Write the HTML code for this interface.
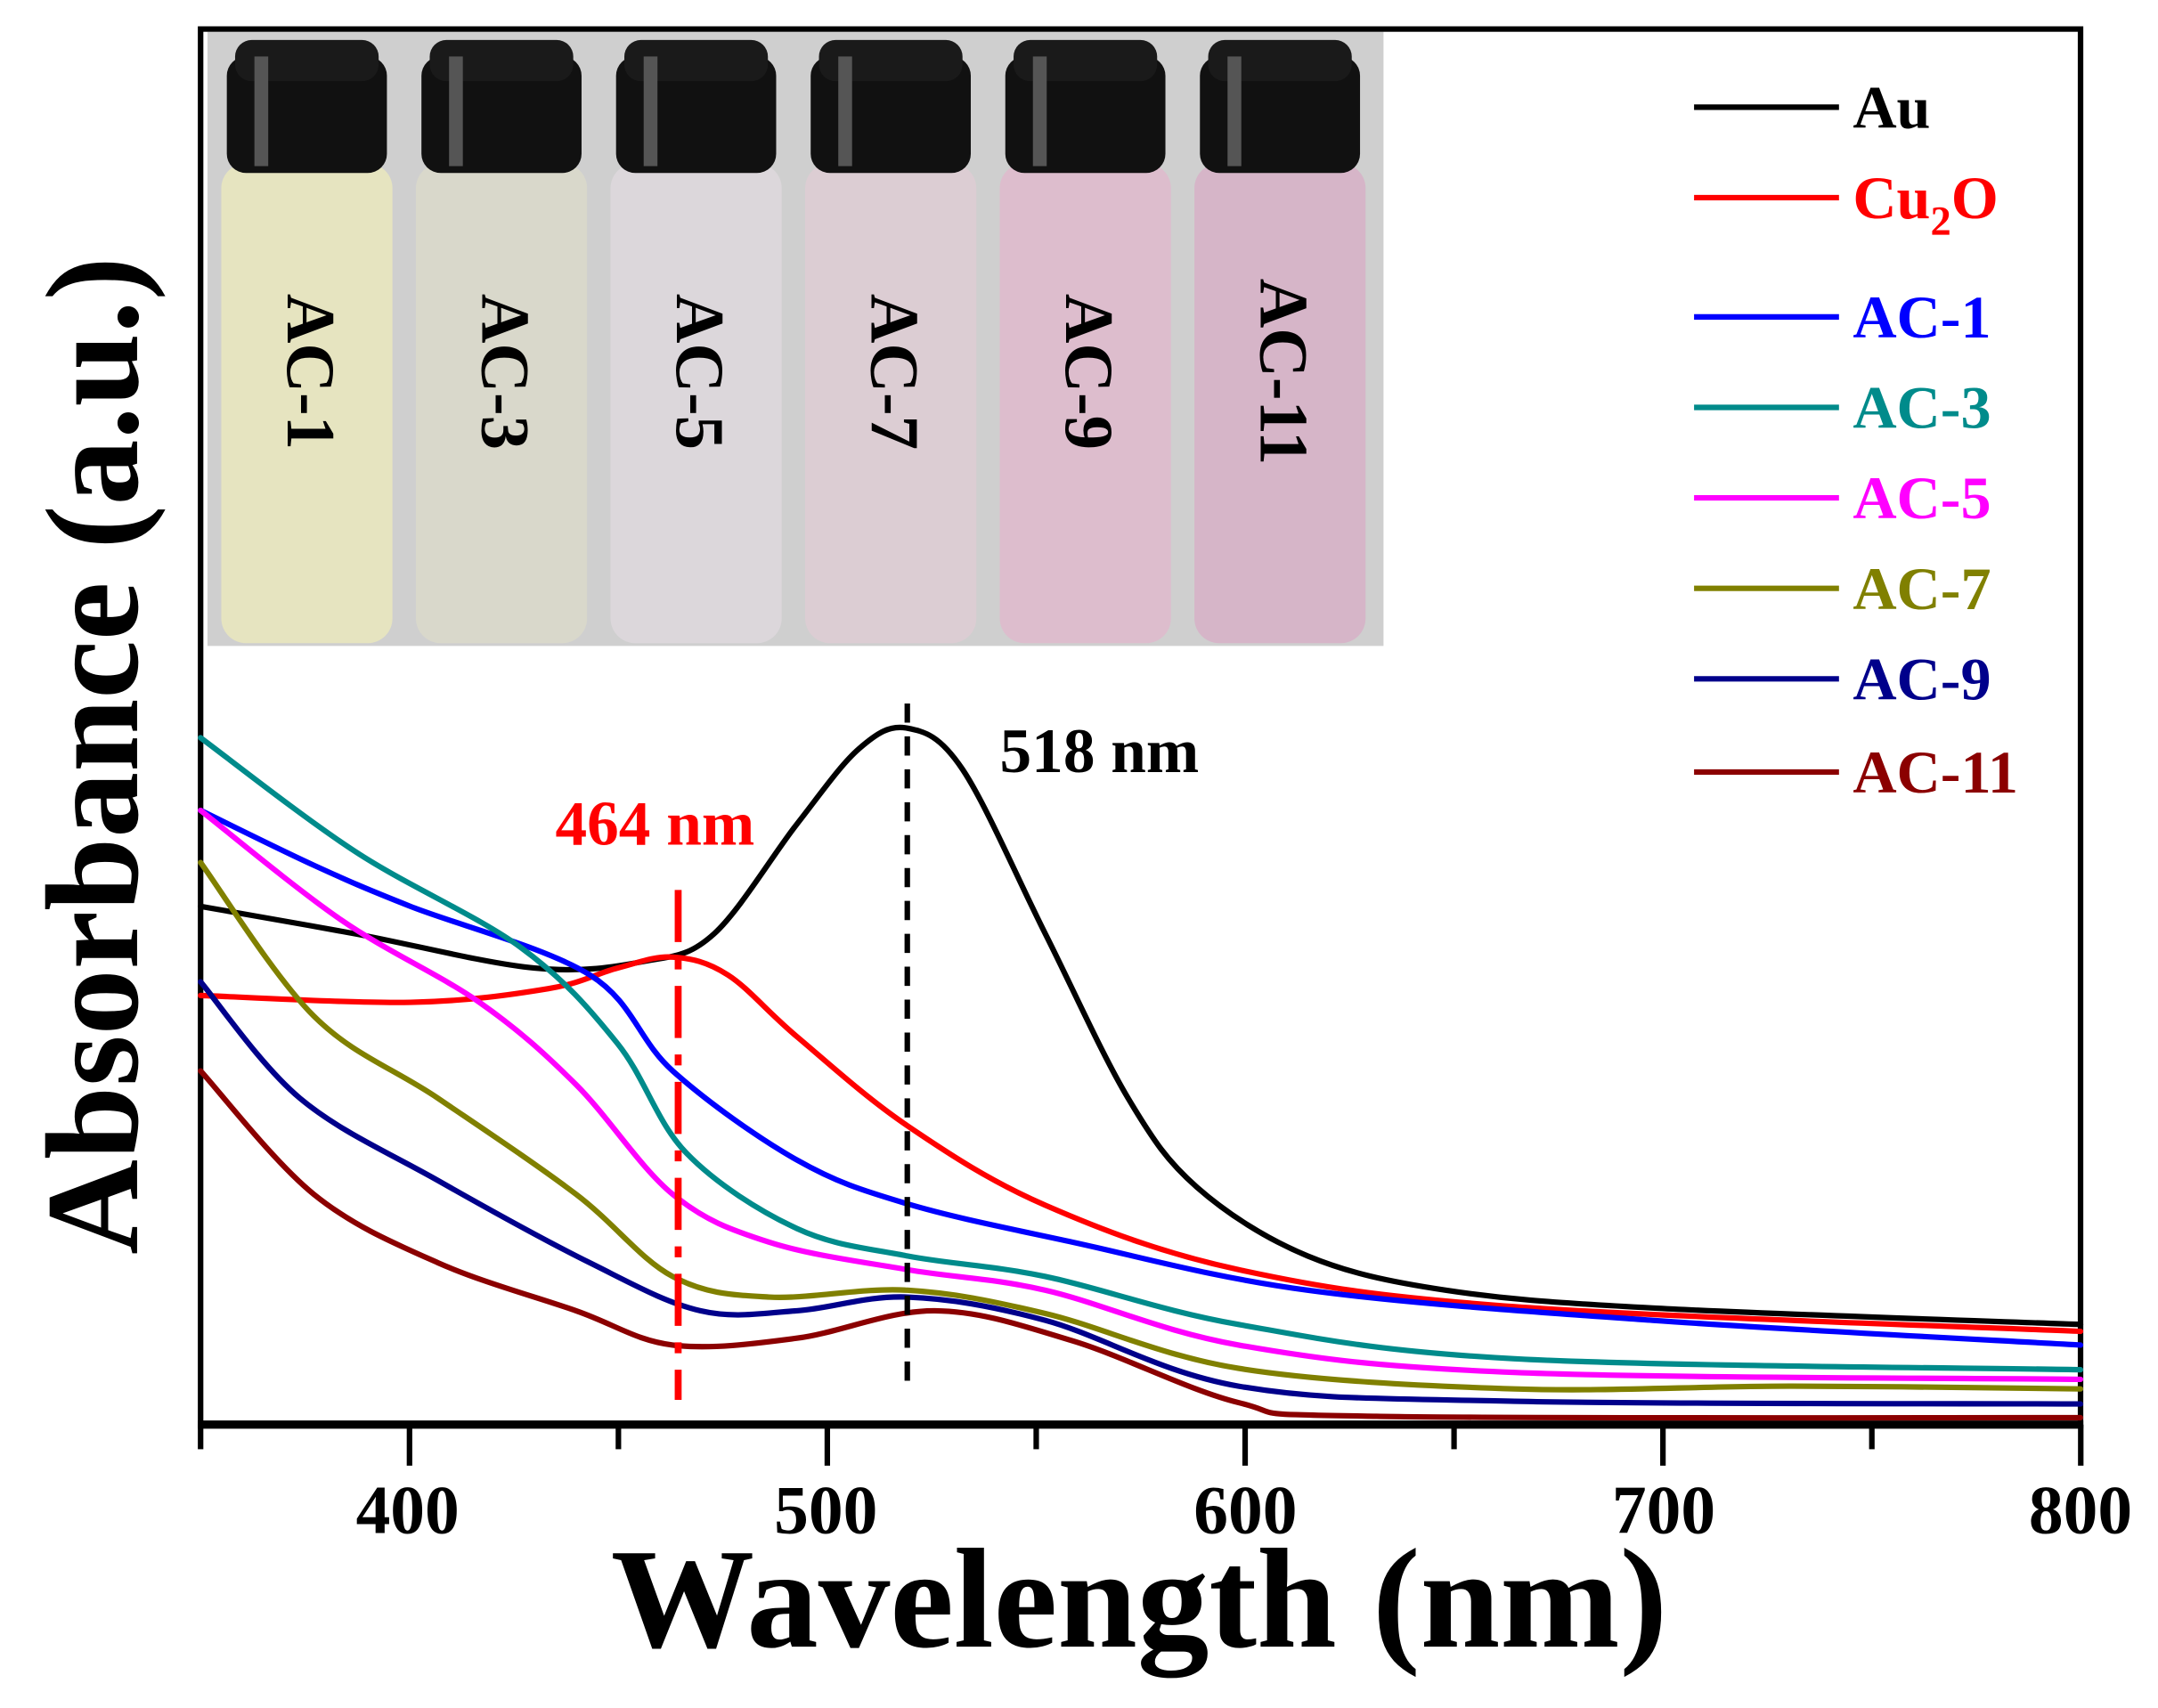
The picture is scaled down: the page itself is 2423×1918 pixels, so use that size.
<!DOCTYPE html>
<html><head><meta charset="utf-8"><style>
html,body{margin:0;padding:0;background:#fff}
svg{display:block}
text{font-family:"Liberation Serif",serif;font-weight:bold}
</style></head><body>
<svg id="s" width="2423" height="1918" viewBox="0 0 1560 1235" preserveAspectRatio="none" xmlns="http://www.w3.org/2000/svg">
<rect width="1560" height="1235" fill="#fff"/>
<g transform="matrix(0.9978 0 0 0.9912 -2.67 1.18)">
<rect x="153" y="22" width="852" height="448" fill="#cfcfcf"/>
<g id="vials"></g>
<rect x="148" y="20" width="1362" height="1018" fill="none" stroke="#000" stroke-width="4"/>
<line x1="146" y1="1038" x2="1512" y2="1038" stroke="#000" stroke-width="6"/>
<g id="ticks" stroke="#000" stroke-width="4"></g>
<g font-size="50" text-anchor="middle">
<text x="298" y="1117">400</text><text x="601" y="1117">500</text><text x="905" y="1117">600</text><text x="1208" y="1117">700</text><text x="1510" y="1117">800</text>
</g>
<text x="828" y="1200" font-size="104" text-anchor="middle">Wavelength (nm)</text>
<text transform="translate(102,550) rotate(-90)" font-size="96" text-anchor="middle">Absorbance (a.u.)</text>
<g id="curves" fill="none" stroke-width="4" stroke-linejoin="round" stroke-linecap="round"></g>
<line x1="494" y1="648" x2="494" y2="1020" stroke="#f00" stroke-width="5" stroke-dasharray="38,12,8,12"/>
<line x1="660" y1="512" x2="660" y2="1010" stroke="#000" stroke-width="4" stroke-dasharray="14,10"/>
<text x="405" y="615" font-size="46" fill="#f00">464 nm</text>
<text x="727" y="562" font-size="46" fill="#000">518 nm</text>
<g id="legend" font-size="44"></g>
</g>
</svg>
<script>
var NS="http://www.w3.org/2000/svg";
function el(n,a,p){var e=document.createElementNS(NS,n);for(var k in a)e.setAttribute(k,a[k]);p.appendChild(e);return e;}
var cols=["#e6e4c0","#d9d8cb","#dcd7db","#dccdd3","#ddbdcd","#d6b5c8"],names=["AC-1","AC-3","AC-5","AC-7","AC-9","AC-11"];
var vg=document.getElementById('vials');
for(var i=0;i<6;i++){var cx=225+i*141;
el('rect',{x:cx-62,y:118,width:124,height:350,rx:18,fill:cols[i]},vg);
el('rect',{x:cx-58,y:40,width:116,height:85,rx:14,fill:"#111"},vg);
el('rect',{x:cx-52,y:28,width:104,height:30,rx:12,fill:"#1a1a1a"},vg);
el('rect',{x:cx-38,y:40,width:10,height:80,fill:"#555"},vg);
var t=el('text',{transform:"translate("+(cx-14)+",270) rotate(90)","font-size":"50","text-anchor":"middle",fill:"#000"},vg);t.textContent=names[i];}
var tg=document.getElementById('ticks');
for(var w=350;w<=800;w+=50){var x=148+(w-350)*3.027;var maj=(w%100==0);el('line',{x1:x,y1:1038,x2:x,y2:maj?1068:1056},tg);}
function path(p){var d="M"+p[0][0]+","+p[0][1];for(var i=0;i<p.length-1;i++){var p0=p[i-1]||p[i],p1=p[i],p2=p[i+1],p3=p[i+2]||p2;
d+=" C"+(p1[0]+(p2[0]-p0[0])/6)+","+(p1[1]+(p2[1]-p0[1])/6)+" "+(p2[0]-(p3[0]-p1[0])/6)+","+(p2[1]-(p3[1]-p1[1])/6)+" "+p2[0]+","+p2[1];}return d;}
var C=[
["#000",[[148,660],[260,680],[390,705],[470,700],[520,680],[580,600],[625,545],[660,530],[700,560],[760,680],[820,800],[870,865],[950,915],[1050,940],[1200,953],[1510,965]]],
["#f00",[[148,725],[300,730],[400,720],[450,705],[490,697],[530,710],[580,755],[660,820],[760,878],[900,925],[1100,952],[1510,970]]],
["#00f",[[148,590],[230,630],[300,660],[430,710],[490,780],[580,845],[660,877],[780,905],[950,940],[1200,962],[1510,980]]],
["#008b8b",[[148,537],[260,620],[380,690],[450,760],[500,840],[580,895],[660,915],[760,930],[900,965],[1100,990],[1510,998]]],
["#f0f",[[148,590],[250,670],[350,730],[420,790],[490,870],[560,905],[660,925],[760,940],[900,980],[1100,1000],[1510,1005]]],
["#808000",[[148,628],[230,740],[320,800],[420,870],[490,930],[560,945],[660,940],[760,957],[900,997],[1100,1012],[1300,1010],[1510,1012]]],
["#00008b",[[148,715],[220,800],[320,860],[430,920],[510,955],[580,955],[660,945],[760,962],[900,1010],[1100,1021],[1510,1023]]],
["#8b0000",[[148,780],[230,870],[320,920],[420,955],[490,980],[580,975],[680,955],[780,977],[900,1022],[1000,1032],[1510,1033]]]];
var cg=document.getElementById('curves');
C.forEach(function(c){el('path',{d:path(c[1]),stroke:c[0]},cg);});
var lg=document.getElementById('legend');
var L=[["Au","#000",77],["Cu2O","#f00",143],["AC-1","#00f",230],["AC-3","#008b8b",296],["AC-5","#f0f",362],["AC-7","#808000",428],["AC-9","#00008b",494],["AC-11","#8b0000",562]];
L.forEach(function(l){el('line',{x1:1230,y1:l[2],x2:1335,y2:l[2],stroke:l[1],"stroke-width":4},lg);
var t=el('text',{x:1345,y:l[2]+15,fill:l[1]},lg);
if(l[0]=="Cu2O"){t.textContent="Cu";var a=el('tspan',{dy:12,"font-size":30},t);a.textContent="2";var b=el('tspan',{dy:-12},t);b.textContent="O";}else t.textContent=l[0];});
</script>
</body></html>
